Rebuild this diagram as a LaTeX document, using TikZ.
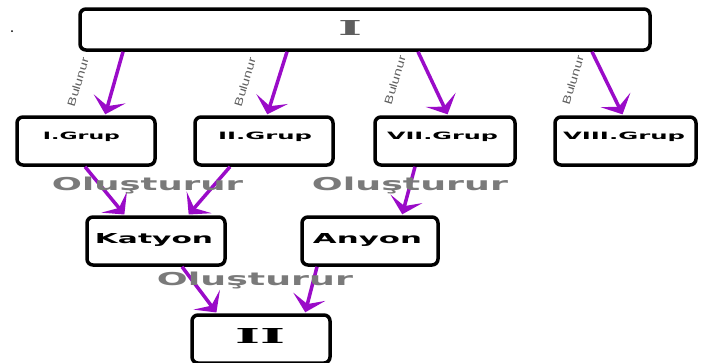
\documentclass[tikz,border=0pt]{standalone}
\usepackage{fontspec}
\setmainfont{DejaVu Sans}
\newfontfamily\slabfont{DejaVu Serif}
\newfontfamily\narrowfont{Liberation Sans}
\usetikzlibrary{arrows.meta,calc}
\definecolor{arrowpurple}{HTML}{9A0BC8}
\definecolor{labelgray}{HTML}{7A7A7A}
\definecolor{darkgray2}{HTML}{5E5E5E}
\tikzset{
  boxnode/.style={draw=black, line width=3.5pt, rounded corners=6pt, fill=white, inner sep=0pt},
  txtnode/.style={anchor=base, inner sep=0pt, outer sep=0pt},
  conn/.style={draw=arrowpurple, line width=3.5pt,
    -{Stealth[length=16pt, width=33pt, inset=7.5pt]}, shorten >=1pt},
  bulnode/.style={inner sep=0pt, rotate=73, text=darkgray2},
}
\newcommand{\fitbox}[3]{\resizebox{#1}{#2}{#3}}
\begin{document}
\begin{tikzpicture}[x=1pt,y=-1pt]
\useasboundingbox (0,0) rectangle (711,362);
\fill[black] (12,31) circle (1pt);
% boxes
\node[boxnode, minimum width=570pt, minimum height=41pt] (top) at (365,29.5) {};
\node[boxnode, minimum width=138pt, minimum height=48pt] (g1) at (86,141) {};
\node[boxnode, minimum width=138pt, minimum height=48pt] (g2) at (264,141) {};
\node[boxnode, minimum width=140pt, minimum height=48pt] (g3) at (445,141) {};
\node[boxnode, minimum width=141pt, minimum height=48pt] (g4) at (625.5,141) {};
\node[boxnode, minimum width=138pt, minimum height=48pt] (kat) at (156,241) {};
\node[boxnode, minimum width=136pt, minimum height=48pt] (any) at (370,241) {};
\node[boxnode, minimum width=138pt, minimum height=48pt] (ii) at (261,339) {};
% texts
\node[txtnode, text=darkgray2] (tI) at (350,35) {\fitbox{24pt}{15pt}{\slabfont\bfseries I}};
\node[txtnode] (t1) at (81.5,139) {\fitbox{77pt}{7.5pt}{\bfseries I.Grup}};
\node[txtnode] (t2) at (265,139) {\fitbox{94pt}{7.5pt}{\bfseries II.Grup}};
\node[txtnode] (t3) at (442.5,139) {\fitbox{111pt}{7.5pt}{\bfseries VII.Grup}};
\node[txtnode] (t4) at (624,139) {\fitbox{122pt}{7.5pt}{\bfseries VIII.Grup}};
\node[txtnode] (tk) at (154,243) {\fitbox{118pt}{10pt}{\bfseries Katyon}};
\node[txtnode] (ta) at (367.5,243) {\fitbox{109pt}{10pt}{\bfseries Anyon}};
\node[txtnode] (tII) at (260,343) {\fitbox{50pt}{15pt}{\slabfont\bfseries II}};
% connectors
\draw[conn] ([xshift=-242pt]top.south) -- ([xshift=19pt]g1.north);
\draw[conn] ([xshift=-78pt]top.south) -- ([xshift=3pt]g2.north);
\draw[conn] ([xshift=53pt]top.south) -- ([xshift=3pt]g3.north);
\draw[conn] ([xshift=227pt]top.south) -- ([xshift=-2.5pt]g4.north);
\draw[conn] ([xshift=-1pt]g1.south) -- ([xshift=-31pt]kat.north);
\draw[conn] ([xshift=-34pt]g2.south) -- ([xshift=32pt]kat.north);
\draw[conn] ([xshift=-30pt]g3.south) -- ([xshift=32pt]any.north);
\draw[conn] ([xshift=26pt]kat.south) -- ([xshift=-44pt]ii.north);
\draw[conn] ([xshift=-53pt]any.south) -- ([xshift=44pt]ii.north);
% connector labels
\node[bulnode] (b1) at (78,82) {\fitbox{50pt}{8pt}{\narrowfont Bulunur}};
\node[bulnode] (b2) at (245,82) {\fitbox{50pt}{8pt}{\narrowfont Bulunur}};
\node[bulnode] (b3) at (395,80) {\fitbox{50pt}{8pt}{\narrowfont Bulunur}};
\node[bulnode] (b4) at (573,80) {\fitbox{50pt}{8pt}{\narrowfont Bulunur}};
\node[txtnode, text=labelgray] (o1) at (147.5,190) {\fitbox{191pt}{13.5pt}{\bfseries Oluşturur}};
\node[txtnode, text=labelgray] (o2) at (410,190) {\fitbox{196pt}{13.5pt}{\bfseries Oluşturur}};
\node[txtnode, text=labelgray] (o3) at (255,285) {\fitbox{196pt}{13.5pt}{\bfseries Oluşturur}};
\end{tikzpicture}
\end{document}
